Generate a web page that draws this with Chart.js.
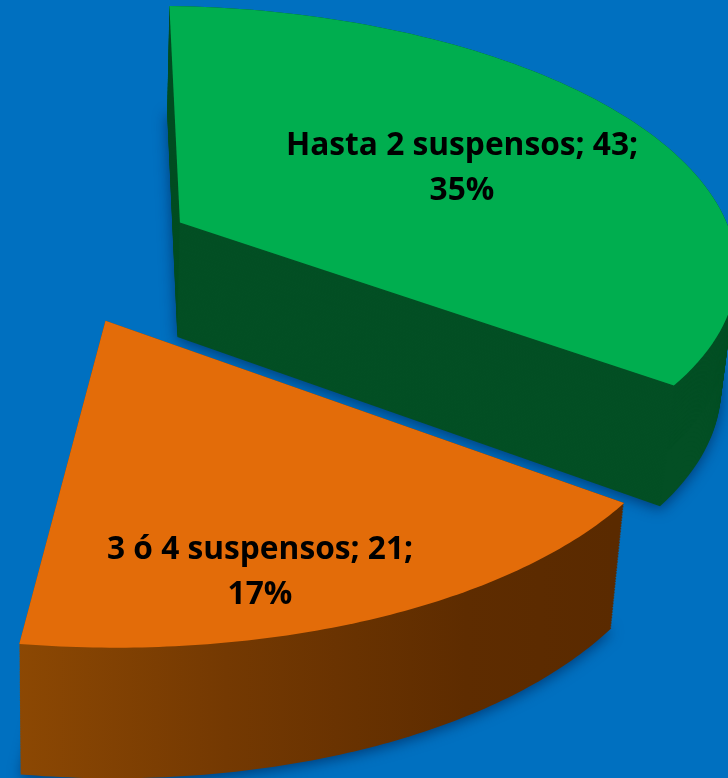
<!DOCTYPE html>
<html>
<head>
<meta charset="utf-8">
<title>Suspensos</title>
<script src="https://cdn.jsdelivr.net/npm/chart.js@4"></script>
<style>
    html, body { margin: 0; padding: 0; background: #0070c0; overflow: hidden; }
    canvas { display: block; }
</style>
</head>
<body>
<canvas id="pieChart" width="728" height="778"></canvas>
<script>
// datos
const categories = ['Hasta 2 suspensos', '3 ó 4 suspensos', 'Resto'];
const values = [43, 21, 59];

// colores por porción
const topColors = ['#00ae4f', '#e36c09', 'transparent'];
const visibleSlices = [0, 1];

// plano 3D: plano de la tarta (-1..1) a pixeles, con perspectiva
const viewPlane = [564.23, -14.14, 43.55, 7.50, 219.96, 252.68, 0.00588, -0.14684];
const explode = 0.275;
const pieRadius = 250;

// posicion de las etiquetas (centro, primera linea base)
const labelPos = [[462, 155], [260, 559]];
const labelGap = 45;

function project(u, v) {
    const p = viewPlane;
    const w = p[6] * u + p[7] * v + 1;
    return [(p[0] * u + p[1] * v + p[2]) / w, (p[3] * u + p[4] * v + p[5]) / w];
}

// la pared baja hacia un punto de fuga lejano
function wallShift(pt, depth) {
    return [pt[0] - 0.023 * (pt[0] - 70) * depth, pt[1] + (106 + 0.038 * pt[1]) * depth];
}

function sliceOutline(arc) {
    const { startAngle, endAngle, outerRadius } = arc.getProps(['startAngle', 'endAngle', 'outerRadius'], true);
    const mid = (startAngle + endAngle) / 2;
    const off = arc.options.offset / outerRadius;
    const cu = off * Math.cos(mid);
    const cv = off * Math.sin(mid);
    const pts = [project(cu, cv)];
    for (let i = 0; i <= 90; i++) {
        const a = startAngle + (endAngle - startAngle) * i / 90;
        pts.push(project(cu + Math.cos(a), cv + Math.sin(a)));
    }
    return pts;
}

function tracePath(ctx, pts) {
    ctx.beginPath();
    pts.forEach((q, i) => i === 0 ? ctx.moveTo(q[0], q[1]) : ctx.lineTo(q[0], q[1]));
    ctx.closePath();
}

function wallFill(ctx, index) {
    if (index === 0) return '#034f24';
    const g = ctx.createLinearGradient(17, 0, 615, 0);
    g.addColorStop(0, '#8c4803');
    g.addColorStop(0.35, '#743902');
    g.addColorStop(0.75, '#5e2c00');
    g.addColorStop(1, '#5a2a00');
    return g;
}

const pie3d = {
    id: 'pie3d',
    beforeDatasetDraw() {
        return false;
    },
    afterDatasetsDraw(chart) {
        const ctx = chart.ctx;
        const arcs = chart.getDatasetMeta(0).data;
        ctx.save();
        visibleSlices.forEach(i => {
            const top = sliceOutline(arcs[i]);
            ctx.fillStyle = wallFill(ctx, i);
            for (let s = 80; s >= 0; s--) {
                // solo la capa de abajo lleva sombra
                ctx.shadowColor = s === 80 ? 'rgba(0, 25, 70, 0.6)' : 'transparent';
                ctx.shadowBlur = s === 80 ? 14 : 0;
                ctx.shadowOffsetY = s === 80 ? 3 : 0;
                tracePath(ctx, top.map(q => wallShift(q, s / 80)));
                ctx.fill();
            }
            tracePath(ctx, top);
            ctx.fillStyle = topColors[i];
            ctx.fill();
        });
        ctx.restore();

        // etiquetas: categoria; valor; porcentaje
        const total = values.reduce((a, b) => a + b, 0);
        ctx.save();
        ctx.fillStyle = '#000000';
        ctx.font = 'bold 31.7px "Open Sans", sans-serif';
        ctx.textAlign = 'center';
        visibleSlices.forEach(i => {
            const pct = Math.round(values[i] / total * 100);
            ctx.fillText(categories[i] + '; ' + values[i] + ';', labelPos[i][0], labelPos[i][1]);
            ctx.fillText(pct + '%', labelPos[i][0], labelPos[i][1] + labelGap);
        });
        ctx.restore();
    }
};

new Chart(document.getElementById('pieChart'), {
    type: 'pie',
    data: {
        labels: categories,
        datasets: [{
            data: values,
            backgroundColor: topColors,
            borderWidth: 0,
            offset: explode * pieRadius
        }]
    },
    options: {
        responsive: false,
        animation: false,
        radius: pieRadius,
        plugins: {
            legend: { display: false },
            tooltip: { enabled: false }
        }
    },
    plugins: [pie3d]
});
</script>
</body>
</html>
